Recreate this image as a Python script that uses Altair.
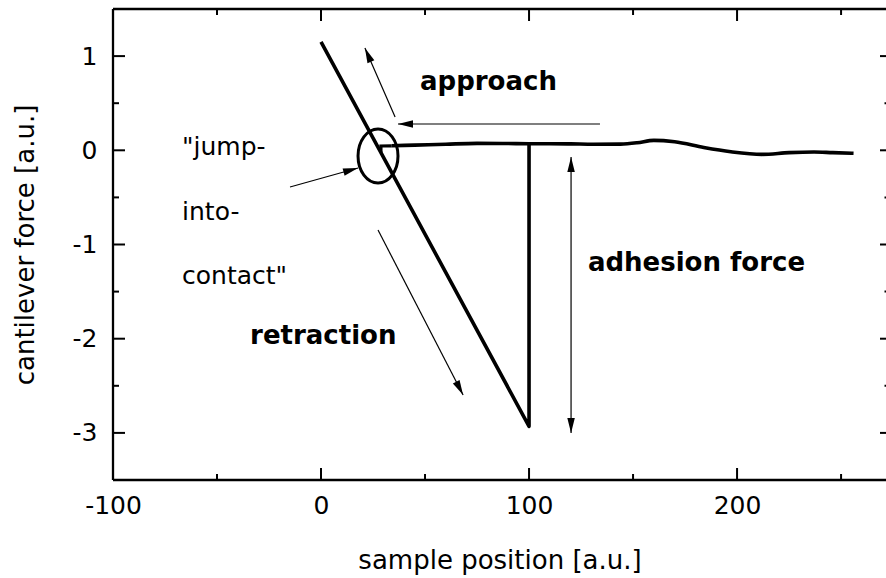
import math
import altair as alt
import pandas as pd

# ---- force-distance curve -------------------------------------------------
# retraction branch: contact line, snap-off, back to the free level
retract_x = [0, 100, 100]
retract_y = [1.15, -2.93, 0.07]
# approach branch: jump-into-contact hook
hook_x = [28.8, 28.8, 34]
hook_y = [-0.02, 0.046, 0.048]
# free (non-contact) baseline
base_x = [34, 45, 60, 75, 90, 100, 110, 120, 131, 144, 152, 160, 170, 184, 197, 212, 225, 237, 246, 256]
base_y = [0.048, 0.055, 0.065, 0.074, 0.072, 0.07, 0.07, 0.068, 0.064, 0.066, 0.08, 0.105, 0.09, 0.03,
          -0.015, -0.043, -0.025, -0.018, -0.025, -0.032]

# ---- axes ------------------------------------------------------------------
x_major = [-100, 0, 100, 200]
x_minor = [-50, 50, 150, 250]
y_major = [-3, -2, -1, 0, 1]
y_minor = [-2.5, -1.5, -0.5, 0.5]

X_DOMAIN = [-100, 271.6]
Y_DOMAIN = [-3.5, 1.5]
W, H = 773, 471
FONT = "DejaVu Sans"

# ---- annotations (data coordinates) ---------------------------------------
arrow_x1 = [134.1, 35.6, 27.4, -14.9]
arrow_y1 = [0.279, 0.353, -0.846, -0.39]
arrow_x2 = [37.0, 21.1, 68.3, 17.8]
arrow_y2 = [0.279, 1.086, -2.598, -0.188]

adh_x = 120.2
adh_top, adh_bottom = -0.071, -3.0

ring_x, ring_y = 27.4, -0.06

label_text = ["approach", "retraction", "adhesion force"]
label_x = [80.5, -34.1, 232.7]
label_y = [0.725, -1.97, -1.2]
label_align = ["center", "left", "right"]

note_text = ['"jump-', "into-", 'contact"']
note_x = -66.8
note_y = [0.035, -0.655, -1.33]

px_per_x = W / (X_DOMAIN[1] - X_DOMAIN[0])
px_per_y = H / (Y_DOMAIN[1] - Y_DOMAIN[0])


def heading(x1, y1, x2, y2):
    """Clockwise screen angle (degrees from up) of the segment 1 -> 2."""
    dx = (x2 - x1) * px_per_x
    dy = -(y2 - y1) * px_per_y
    return math.degrees(math.atan2(dx, -dy)) % 360


xs = alt.Scale(domain=X_DOMAIN, nice=False, zero=False)
ys = alt.Scale(domain=Y_DOMAIN, nice=False, zero=False)

# plain hyphen for negative tick labels
hyphen = "replace(datum.label, '\u2212', '-')"

common = dict(labelFont=FONT, labelFontSize=25, labelColor="black", labelFlush=False,
              labelExpr=hyphen,
              titleFont=FONT, titleFontSize=26, titleFontWeight="normal", titleColor="black",
              ticks=False, domain=False, grid=False, titleBaseline="middle")
x_axis = alt.Axis(values=x_major, format="d", labelPadding=13, title="sample position [a.u.]",
                  titleY=80, **common)
y_axis = alt.Axis(values=y_major, format="d", labelPadding=16, title="cantilever force [a.u.]",
                  titleX=-88, **common)


def X(field):
    return alt.X(field, type="quantitative", scale=xs, axis=x_axis)


def Y(field):
    return alt.Y(field, type="quantitative", scale=ys, axis=y_axis)


# curve layers
curve = pd.DataFrame({"x": retract_x, "y": retract_y, "o": range(len(retract_x))})
hook = pd.DataFrame({"x": hook_x, "y": hook_y, "o": range(len(hook_x))})
base = pd.DataFrame({"x": base_x, "y": base_y})

curve_layer = alt.Chart(curve).mark_line(color="black", strokeWidth=3.6, strokeJoin="round").encode(
    x=X("x"), y=Y("y"), order="o:Q")
hook_layer = alt.Chart(hook).mark_line(color="black", strokeWidth=3.2, strokeJoin="miter").encode(
    x=X("x"), y=Y("y"), order="o:Q")
base_layer = alt.Chart(base).mark_line(color="black", strokeWidth=3.6, interpolate="monotone").encode(
    x=X("x"), y=Y("y"))

# frame (left, top, bottom)
one = pd.DataFrame({"k": [0]})
frame = [
    alt.Chart(one).mark_rule(color="black", strokeWidth=2.3).encode(
        x=alt.value(0), y=alt.value(0), y2=alt.value(H)),
    alt.Chart(one).mark_rule(color="black", strokeWidth=2.3).encode(
        x=alt.value(0), x2=alt.value(W), y=alt.value(0)),
    alt.Chart(one).mark_rule(color="black", strokeWidth=2.3).encode(
        x=alt.value(0), x2=alt.value(W), y=alt.value(H)),
]


# inward ticks on all four sides
def yticks(values, p0, p1):
    return alt.Chart(pd.DataFrame({"v": values})).mark_rule(color="black", strokeWidth=2).encode(
        y=Y("v"), x=alt.value(p0), x2=alt.value(p1))


def xticks(values, p0, p1):
    return alt.Chart(pd.DataFrame({"v": values})).mark_rule(color="black", strokeWidth=2).encode(
        x=X("v"), y=alt.value(p0), y2=alt.value(p1))


ticks = [
    yticks(y_major, 0, 12), yticks(y_minor, 0, 6),
    yticks(y_major, W - 6, W), yticks(y_minor, W - 1.5, W),
    xticks(x_major, H, H - 12), xticks(x_minor, H, H - 6),
    xticks(x_major, 0, 12), xticks(x_minor, 0, 6),
]

# arrows
arrows = pd.DataFrame({"x1": arrow_x1 + [adh_x], "y1": arrow_y1 + [adh_top],
                       "x2": arrow_x2 + [adh_x], "y2": arrow_y2 + [adh_bottom]})
shafts = alt.Chart(arrows).mark_rule(color="black", strokeWidth=1.2).encode(
    x=X("x1"), y=Y("y1"), x2="x2:Q", y2="y2:Q")

head_rows = []
for a, b, c, d in zip(arrow_x1, arrow_y1, arrow_x2, arrow_y2):
    head_rows.append({"x": c, "y": d, "ang": heading(a, b, c, d)})
head_rows.append({"x": adh_x, "y": adh_top, "ang": heading(adh_x, adh_bottom, adh_x, adh_top)})
head_rows.append({"x": adh_x, "y": adh_bottom, "ang": heading(adh_x, adh_top, adh_x, adh_bottom)})
heads = alt.Chart(pd.DataFrame(head_rows)).mark_point(
    shape="M0,0 L0.5,2 L-0.5,2 Z", filled=True, color="black", opacity=1, size=225, strokeWidth=0
).encode(x=X("x"), y=Y("y"), angle=alt.Angle("ang:Q", scale=None))

# ring around the jump-into-contact point
ring = alt.Chart(pd.DataFrame({"x": [ring_x], "y": [ring_y]})).mark_point(
    shape="M-0.74,0 A0.74,1 0 1,1 0.74,0 A0.74,1 0 1,1 -0.74,0 Z", filled=False,
    color="black", opacity=1, size=54 * 54, strokeWidth=3
).encode(x=X("x"), y=Y("y"))

# bold labels
bold_layers = []
for t, x, y, al in zip(label_text, label_x, label_y, label_align):
    bold_layers.append(
        alt.Chart(pd.DataFrame({"x": [x], "y": [y], "t": [t]})).mark_text(
            font=FONT, fontSize=26, fontWeight="bold", align=al, baseline="middle", color="black"
        ).encode(x=X("x"), y=Y("y"), text="t:N"))

notes = alt.Chart(pd.DataFrame({"x": [note_x] * 3, "y": note_y, "t": note_text})).mark_text(
    font=FONT, fontSize=25, align="left", baseline="middle", color="black"
).encode(x=X("x"), y=Y("y"), text="t:N")

chart = alt.layer(
    curve_layer, hook_layer, base_layer, *frame, *ticks, shafts, heads, ring, *bold_layers, notes
).properties(
    width=W, height=H,
    padding={"left": 113, "top": 9, "right": 0, "bottom": 98},
    autosize=alt.AutoSizeParams(type="none"),
    background="white",
).configure_view(stroke=None)

chart.save("out.html", embed_options={"renderer": "svg", "actions": False})
